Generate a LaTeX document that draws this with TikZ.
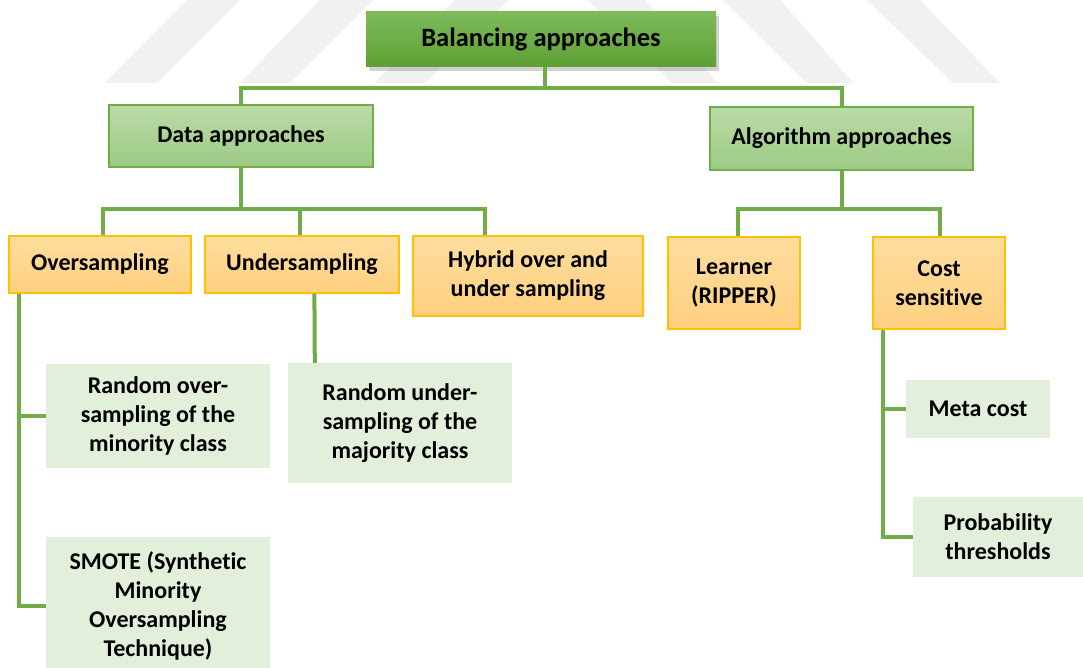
\documentclass[tikz,border=0pt]{standalone}
\usepackage{fontspec}
\setmainfont{Carlito}[Ligatures=NoCommon]
\usetikzlibrary{shadows}
\definecolor{linkgreen}{HTML}{70AD47}
\definecolor{rootTop}{HTML}{7EBB5B}
\definecolor{rootBot}{HTML}{5E9F33}
\definecolor{midTop}{HTML}{BADBA7}
\definecolor{midBot}{HTML}{9ECA85}
\definecolor{orTop}{HTML}{FFDD9E}
\definecolor{orBot}{HTML}{FED080}
\definecolor{orLine}{HTML}{FFC000}
\definecolor{leafFill}{HTML}{E2EFDA}
\definecolor{mark}{HTML}{F1F1F1}
\tikzset{
  box/.style={inner sep=0pt, align=center, text=black,
    font=\bfseries\fontsize{24}{29}\selectfont},
  rootbox/.style={box, top color=rootTop, bottom color=rootBot,
    drop shadow={shadow xshift=3pt, shadow yshift=-4pt, opacity=0.35},
    font=\bfseries\fontsize{26.5}{30}\selectfont},
  midbox/.style={box, draw=linkgreen, line width=1.2pt,
    top color=midTop, bottom color=midBot},
  catbox/.style={box, draw=orLine, line width=1.2pt,
    top color=orTop, bottom color=orBot},
  leafbox/.style={box, fill=leafFill},
  link/.style={draw=linkgreen, line width=4pt},
  stripe/.style={fill=mark}
}
\begin{document}
\begin{tikzpicture}[x=1pt,y=-1pt]
\useasboundingbox (0,0) rectangle (1083,668);
\clip (0,0) rectangle (1083,668);
\fill[white] (0,0) rectangle (1083,668);

% faint background stripes
\fill[stripe] (105,83) -- (157,83) -- (240,0) -- (187,0) -- cycle;
\fill[stripe] (240,83) -- (290,83) -- (373,0) -- (320,0) -- cycle;
\fill[stripe] (375,83) -- (425,83) -- (508,0) -- (455,0) -- cycle;
\fill[stripe] (672,83) -- (718,83) -- (645,0) -- (588,0) -- cycle;
\fill[stripe] (807,83) -- (853,83) -- (780,0) -- (723,0) -- cycle;
\fill[stripe] (953,83) -- (1000,83) -- (920,0) -- (867,0) -- cycle;

% nodes
\node[rootbox, minimum width=350pt, minimum height=55pt] (top) at (541,39.5) {Balancing approaches};

\node[midbox, minimum width=264pt, minimum height=62pt] (data) at (241,136) {\raisebox{3pt}{Data approaches}};
\node[midbox, minimum width=263pt, minimum height=63pt] (algo) at (841.5,138.5) {\raisebox{3pt}{Algorithm approaches}};

\node[catbox, minimum width=182pt, minimum height=57pt] (over) at (100,264.5) {\raisebox{2pt}{Oversampling}};
\node[catbox, minimum width=194pt, minimum height=57pt] (under) at (302,264.5) {\raisebox{2pt}{Undersampling}};
\node[catbox, minimum width=230pt, minimum height=80pt] (hybrid) at (528,276) {Hybrid over and\\under sampling};
\node[catbox, minimum width=132pt, minimum height=92pt] (learner) at (734,283) {Learner\\(RIPPER)};
\node[catbox, minimum width=132pt, minimum height=92pt] (cost) at (939,283) {Cost\\sensitive};

\node[leafbox, minimum width=224pt, minimum height=104pt] (rover) at (158,416) {Random over-\\sampling of the\\minority class};
\node[leafbox, minimum width=224pt, minimum height=138pt] (smote) at (158,606) {SMOTE (Synthetic\\Minority\\Oversampling\\Technique)};
\node[leafbox, minimum width=224pt, minimum height=120pt] (rundr) at (400,423) {Random under-\\sampling of the\\majority class};
\node[leafbox, minimum width=144pt, minimum height=58pt] (meta) at (978,409) {Meta cost};
\node[leafbox, minimum width=170pt, minimum height=80pt] (prob) at (998,537) {Probability\\thresholds};

% connectors
\draw[link] ([xshift=4pt]top.south) -- ++(0,21) coordinate (j0);
\draw[link] (data.north) |- (j0) -| (algo.north);

\draw[link] (data.south) -- ++(0,41) coordinate (j1);
\draw[link] ([xshift=3pt]over.north) |- (j1) -| ([xshift=-43pt]hybrid.north);
\draw[link] ([xshift=-2pt]under.north) -- ([xshift=-2pt]under.north |- j1);

\draw[link] (algo.south) -- ++(0,38) coordinate (j2);
\draw[link] ([xshift=4pt]learner.north) |- (j2) -| ([xshift=1pt]cost.north);

\draw[link] ([xshift=11pt]over.south west) |- (rover.west);
\draw[link] ([xshift=11pt]over.south west) |- (smote.west);
\draw[link] ([xshift=110pt]under.south west) -- ([xshift=27pt]rundr.north west);
\draw[link] ([xshift=11pt]cost.south west) |- (meta.west);
\draw[link] ([xshift=11pt]cost.south west) |- (prob.west);
\end{tikzpicture}
\end{document}
